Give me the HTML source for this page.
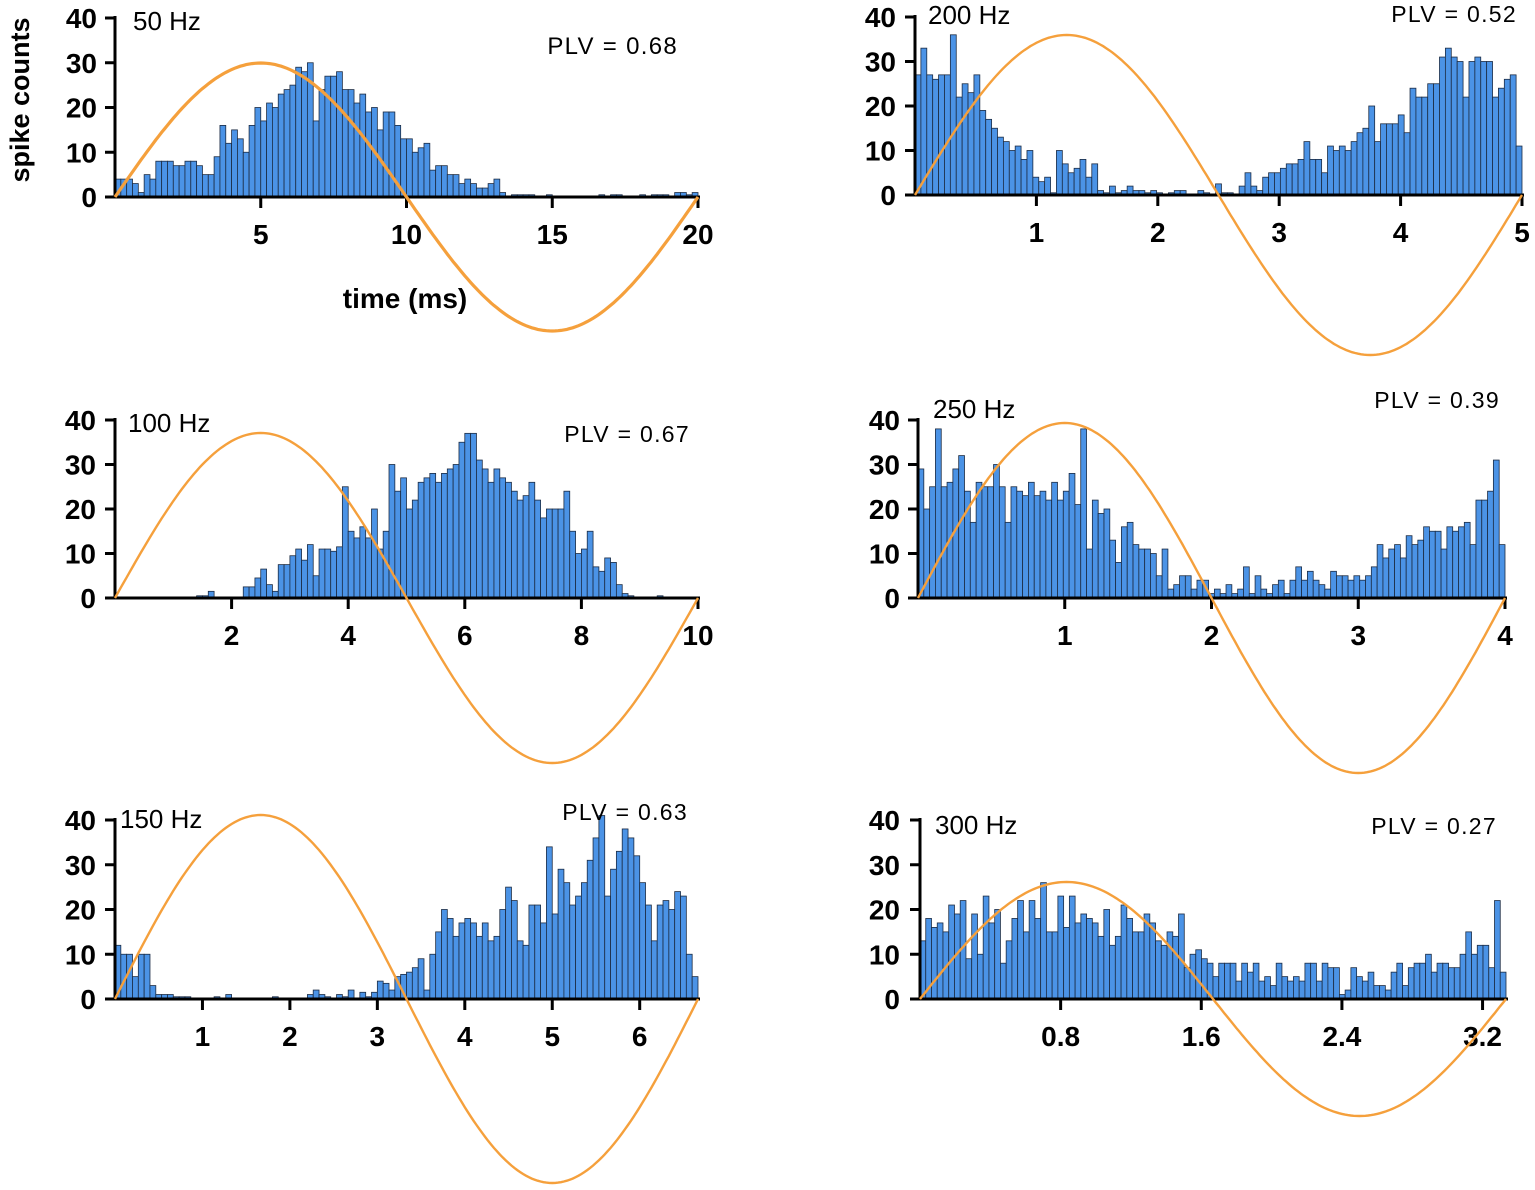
<!DOCTYPE html>
<html><head><meta charset="utf-8"><style>
html,body{margin:0;padding:0;background:#fff}
svg{display:block;font-family:"Liberation Sans",sans-serif}
</style></head><body>
<svg id="fig" width="1535" height="1190" viewBox="0 0 1535 1190" xmlns="http://www.w3.org/2000/svg">
<text transform="translate(29,100) rotate(-90)" text-anchor="middle" font-size="27" font-weight="bold">spike counts</text>
<text x="405" y="308" text-anchor="middle" font-size="28" font-weight="bold">time (ms)</text>
</svg>
<script>
const counts50 = [4,4,4,3,1,5,4,8,8,8,7,7,8,8,7,5,5,9,16,12,15,13,10,16,20,17,21,20,23,24,25,29,28,30,17,24,27,27,28,24,24,21,23,19,20,15,19,19,16,13,13,10,11,12,6,7,7,5,5,3,4,3,2,2,3,4,1,0,0.5,0.5,0.5,0.5,0,0,0.5,0,0,0,0,0,0,0,0,0.5,0,0.5,0.5,0,0,0,0.5,0,0.5,0.5,0.5,0,1,1,0.5,1];
const counts200 = [27,33,27,26,27,27,36,22,25,23,27,19,17,15,13,12,10,11,8,10,4,3,4,0.5,10,7,5,6,8,4,7,1,0.5,2,0.5,1,2,1,1,0.5,1,0.5,0,0.5,1,1,0,0,1,0.5,0,2.5,0.5,0.5,0,2,5,2,1,4,5,5,6,7,7,8,12,8,8,5,11,10,11,10,12,14,15,20,12,16,16,16,18,14,24,22,22,25,25,31,33,31,30,22,30,31,30,30,22,24,26,27,11];
const counts100 = [0,0,0,0,0,0,0,0,0,0,0,0,0,0,0.5,0.5,1.5,0,0,0,0,0,2.5,2.5,4.5,6.5,3,1.5,7.5,7.5,9.5,11,8.5,12,5,11,11,10.5,11.5,25,15,13.5,16,13.5,20,11,15,30,24,27,20,22,26,27,28,26,28,29,30,35,37,37,31,29,26,29,27,26,24,22,23,26,22,18,20,20,20,24,15,10,11,15,7,6,9,8,3,1,0.5,0,0,0,0,0.5,0,0,0,0,0,0];
const counts250 = [29,20,25,38,25,26,29,32,24,17,26,25,25,30,25,17,25,24,23,26,23,24,22,26,22,24,28,21,38,11,22,19,20,13,8,16,17,12,11,11,10,5,11,2,3,5,5,2,4,4,1,2,1,3,1,2,7,1,5,2,1,3,4,1,4,7,4,6,4,3,2,6,5,5,4,5,4,5,7,12,9,11,12,9,14,12,13,16,15,15,11,16,15,16,17,12,22,22,24,31,12];
const counts150 = [12,10,10,5,10,10,3,1,1,1,0.5,0.5,0.5,0,0,0,0,0.5,0,1,0,0,0,0,0,0,0,0.5,0,0,0,0,0,1,2,1,0.5,0,1,0.5,2,0,1.5,0.5,1.5,4,3.5,2,5,5.5,6,7,9,2,10,15,20,18,14,17,18,17,14,17,13,14,20,25,22,13,12,21,21,17,34,19,29,26,21,23,26,31,36,41,23,29,33,38,36,32,26,21,13,21,22,20,24,23,10,5];
const counts300 = [13,18,16,17,15,21,19,22,9,19,10,23,17,20,8,13,18,22,15,22,18,26,15,15,23,16,23,17,19,18,17,14,20,12,14,21,18,15,15,19,17,13,12,15,14,19,7,10,11,9,8,5,8,8,8,4,8,6,8,4,5,3,8,5,4,5,4,8,8,4,8,7,7,1,2,7,5,4,6,3,3,2,6,8,3,7,8,8,10,6,8,8,7,7,10,15,10,12,12,7,22,6];
const yTicks = [0,10,20,30,40];
const xTicks50 = ["5","10","15","20"];
const xTicks200 = ["1","2","3","4","5"];
const xTicks100 = ["2","4","6","8","10"];
const xTicks250 = ["1","2","3","4"];
const xTicks150 = ["1","2","3","4","5","6"];
const xTicks300 = ["0.8","1.6","2.4","3.2"];
const freqLabels = ["50 Hz","200 Hz","100 Hz","250 Hz","150 Hz","300 Hz"];
const plvLabels = ["PLV = 0.68","PLV = 0.52","PLV = 0.67","PLV = 0.39","PLV = 0.63","PLV = 0.27"];
const ranges = [20,5,10,4,20/3,10/3];

const NS="http://www.w3.org/2000/svg";
const svg=document.getElementById('fig');
function mk(tag,attrs,parent){const e=document.createElementNS(NS,tag);for(const k in attrs)e.setAttribute(k,attrs[k]);(parent||svg).appendChild(e);return e;}

const layouts=[
 {x0:115,x1:698,y0:197,y40:18,amp:134,sw:3.2,lblR:97,fx:133,fy:30,px:678,py:54,fs:24},
 {x0:915,x1:1522,y0:195,y40:17,amp:160,sw:2.4,lblR:896,fx:928,fy:24,px:1517,py:22,fs:23},
 {x0:115,x1:698,y0:598,y40:420,amp:165,sw:2.4,lblR:96,fx:128,fy:432,px:690,py:442,fs:23},
 {x0:918,x1:1505,y0:598,y40:420,amp:175,sw:2.4,lblR:900,fx:933,fy:418,px:1500,py:408,fs:23},
 {x0:115,x1:698,y0:999,y40:820,amp:184,sw:2.4,lblR:96,fx:120,fy:828,px:688,py:820,fs:23},
 {x0:920,x1:1506,y0:999,y40:820,amp:117,sw:2.4,lblR:900,fx:935,fy:834,px:1497,py:834,fs:23}
];
const allCounts=[counts50,counts200,counts100,counts250,counts150,counts300];
const allTicks=[xTicks50,xTicks200,xTicks100,xTicks250,xTicks150,xTicks300];

layouts.forEach((L,i)=>{
  const g=mk('g',{});
  
  
  const R=ranges[i];
  const sx=v=>L.x0+(v/R)*(L.x1-L.x0);
  const sy=v=>L.y0-(v/40)*(L.y0-L.y40);
  const data=allCounts[i];
  const bw=R/data.length;
  data.forEach((c,j)=>{
    const x=sx(j*bw), w=sx((j+1)*bw)-x;
    const r=mk('rect',{x:x,y:sy(c),width:w,height:L.y0-sy(c),fill:'#4b93e6',stroke:'#1c2c44','stroke-width':0.8},g);
    
    
  });
  const xa=mk('line',{x1:L.x0,y1:L.y0,x2:L.x1+2,y2:L.y0,stroke:'#000','stroke-width':3},g);
  
  
  const ya=mk('line',{x1:L.x0,y1:L.y0+1.5,x2:L.x0,y2:L.y40-2,stroke:'#000','stroke-width':3},g);
  
  
  yTicks.forEach(t=>{
    mk('line',{x1:L.x0-10,y1:sy(t),x2:L.x0,y2:sy(t),stroke:'#000','stroke-width':3},g);
    const tx=mk('text',{x:L.lblR,y:sy(t)+10,'text-anchor':'end','font-size':28,'font-weight':'bold'},g);
    tx.textContent=t;
    
    
  });
  allTicks[i].forEach(t=>{
    const x=sx(parseFloat(t));
    mk('line',{x1:x,y1:L.y0,x2:x,y2:L.y0+11,stroke:'#000','stroke-width':3},g);
    const tx=mk('text',{x:x,y:L.y0+47,'text-anchor':'middle','font-size':28,'font-weight':'bold'},g);
    tx.textContent=t;
    
    
  });
  let d='';
  for(let k=0;k<=200;k++){const v=R*k/200;const x=sx(v);const y=L.y0-L.amp*Math.sin(2*Math.PI*k/200);d+=(k?'L':'M')+x.toFixed(1)+','+y.toFixed(1);}
  const p=mk('path',{d:d,fill:'none',stroke:'#f5a03c','stroke-width':L.sw},g);
  
  
  const f=mk('text',{x:L.fx,y:L.fy,'font-size':26},g);
  f.textContent=freqLabels[i];
  
  
  const pl=mk('text',{x:L.px,y:L.py,'text-anchor':'end','font-size':L.fs,'letter-spacing':1.3},g);
  pl.textContent=plvLabels[i];
  
  
});
</script>
</body></html>
